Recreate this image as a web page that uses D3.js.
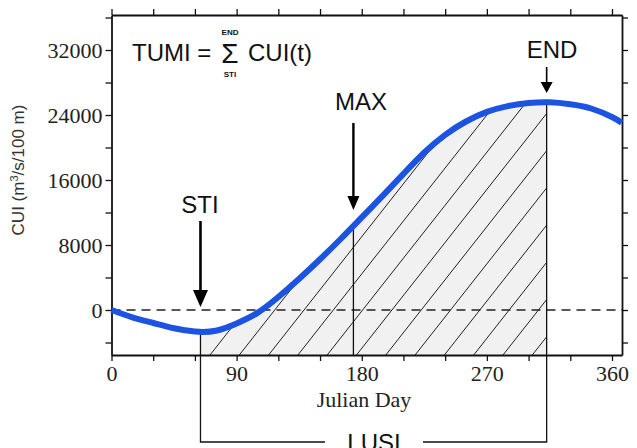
<!DOCTYPE html>
<html>
<head>
<meta charset="utf-8">
<script src="https://cdn.jsdelivr.net/npm/d3@7"></script>
<style>
  body { margin: 0; background: #fff; }
  .serif { font-family: "Liberation Serif", "Times New Roman", serif; }
  .sans { font-family: "Liberation Sans", Arial, sans-serif; }
</style>
</head>
<body>
<div id="chart"></div>
<script>
// Cumulative upwelling index
var days = [0, 15, 30, 45, 60, 75, 90, 105, 120, 135, 150, 165, 180, 195, 210, 225, 240, 255, 270, 285, 300, 315, 330, 345, 360, 367];
var cui  = [0, -900, -1600, -2250, -2650, -2550, -1650, -350, 1600, 3850, 6250, 8770, 11400, 14050, 16750, 19380, 21560, 23200, 24380, 25100, 25480, 25560, 25330, 24800, 23750, 23050];

var eventNames  = ["STI", "MAX", "END"];
var eventDays   = [64, 174, 313];
var eventValues = [-2700, 10250, 25560];

var xTicks = [0, 30, 60, 90, 120, 150, 180, 210, 240, 270, 300, 330, 360];
var xLabels = [0, 90, 180, 270, 360];
var yTicks = [-4000, 0, 4000, 8000, 12000, 16000, 20000, 24000, 28000, 32000, 36000];
var yLabels = [0, 8000, 16000, 24000, 32000];

var W = 637, H = 448;
var pLeft = 111.5, pRight = 622, pTop = 15, pBottom = 355;

var svg = d3.select("#chart").append("svg").attr("width", W).attr("height", H);

var x = d3.scaleLinear().domain([0, 367.2]).range([pLeft, pRight]);
var y = d3.scaleLinear().domain([-5538, 36308]).range([pBottom, pTop]);

var data = days.map(function (d, i) { return { day: d, v: cui[i] }; });

// Hatched region between STI and END, under the curve
var area = d3.area()
  .x(function (d) { return x(d.day); })
  .y0(pBottom)
  .y1(function (d) { return y(d.v); })
  .curve(d3.curveNatural);

var defs = svg.append("defs");
defs.append("clipPath").attr("id", "underClip")
  .append("path").attr("d", area(data));
defs.append("clipPath").attr("id", "spanClip")
  .append("rect")
  .attr("x", x(eventDays[0])).attr("y", pTop)
  .attr("width", x(eventDays[2]) - x(eventDays[0])).attr("height", pBottom - pTop);

var span = svg.append("g").attr("clip-path", "url(#spanClip)");
span.append("path").attr("d", area(data)).style("fill", "#f1f1f1");

var hatch = span.append("g").attr("clip-path", "url(#underClip)");
var slope = 1.27, step = 29.3, x0 = 210;
for (var k = -1; k < 16; k++) {
  var bx = x0 + k * step;
  hatch.append("line")
    .attr("x1", bx).attr("y1", pBottom)
    .attr("x2", bx + 300 / slope).attr("y2", pBottom - 300)
    .style("stroke", "#222").style("stroke-width", 1);
}

// zero line
svg.append("line")
  .attr("x1", pLeft).attr("x2", pRight).attr("y1", y(0)).attr("y2", y(0))
  .style("stroke", "#222").style("stroke-width", 1.6).style("stroke-dasharray", "9,6");

// vertical markers and LUSI bracket
var bY = 442;
svg.append("line").attr("x1", x(eventDays[1])).attr("x2", x(eventDays[1]))
  .attr("y1", y(eventValues[1])).attr("y2", pBottom)
  .style("stroke", "#111").style("stroke-width", 1.3);
svg.append("path")
  .attr("d", "M" + x(eventDays[0]) + "," + y(eventValues[0]) + "V" + bY + "H325")
  .style("fill", "none").style("stroke", "#111").style("stroke-width", 1.3);
svg.append("path")
  .attr("d", "M423," + bY + "H" + x(eventDays[2]) + "V" + y(eventValues[2]))
  .style("fill", "none").style("stroke", "#111").style("stroke-width", 1.3);

// axes / frame
function styleAxis(g) {
  g.selectAll("path").style("stroke", "#111").style("stroke-width", 1.8);
  g.selectAll("line").style("stroke", "#111").style("stroke-width", 1.3);
  g.selectAll("text").attr("class", "serif").style("font-size", "22px").style("fill", "#222");
}

svg.append("g").attr("transform", "translate(0," + pBottom + ")")
  .call(d3.axisBottom(x).tickValues(xTicks).tickSize(6).tickSizeOuter(0).tickPadding(4)
    .tickFormat(function (d) { return xLabels.indexOf(d) >= 0 ? d : ""; }))
  .call(styleAxis);

svg.append("g").attr("transform", "translate(0," + pTop + ")")
  .call(d3.axisTop(x).tickValues(xTicks).tickSize(6).tickSizeOuter(0).tickFormat(""))
  .call(styleAxis);

svg.append("g").attr("transform", "translate(" + pLeft + ",0)")
  .call(d3.axisLeft(y).tickValues(yTicks).tickSize(6).tickSizeOuter(0).tickPadding(3)
    .tickFormat(function (d) { return yLabels.indexOf(d) >= 0 ? d : ""; }))
  .call(styleAxis);

svg.append("g").attr("transform", "translate(" + pRight + ",0)")
  .call(d3.axisRight(y).tickValues(yTicks).tickSize(6).tickSizeOuter(0).tickFormat(""))
  .call(styleAxis);

// CUI curve
var line = d3.line()
  .x(function (d) { return x(d.day); })
  .y(function (d) { return y(d.v); })
  .curve(d3.curveNatural);

svg.append("path").datum(data).attr("d", line)
  .style("fill", "none").style("stroke", "#1c53e0").style("stroke-width", 6);

// arrows
function arrow(cx, y1, y2, headLen, headW, sw) {
  svg.append("line").attr("x1", cx).attr("x2", cx).attr("y1", y1).attr("y2", y2 - headLen + 1)
    .style("stroke", "#000").style("stroke-width", sw);
  svg.append("path")
    .attr("d", "M" + (cx - headW / 2) + "," + (y2 - headLen) + "L" + (cx + headW / 2) + "," + (y2 - headLen) + "L" + cx + "," + y2 + "Z")
    .style("fill", "#000");
}
arrow(x(eventDays[0]), 221, 307, 17, 15, 2.6);
arrow(x(eventDays[1]), 123, 210, 14, 12, 2.4);
arrow(x(eventDays[2]), 67, 93, 11, 12, 1.6);

var labelPos = [[200, 213], [361, 110], [552, 58]];
eventNames.forEach(function (n, i) {
  svg.append("text").attr("class", "sans")
    .attr("x", labelPos[i][0]).attr("y", labelPos[i][1])
    .attr("text-anchor", "middle").style("font-size", "24px").style("fill", "#111")
    .text(n);
});

svg.append("text").attr("class", "sans").attr("x", 374).attr("y", 451)
  .attr("text-anchor", "middle").style("font-size", "24px").style("fill", "#111").text("LUSI");

// formula
svg.append("text").attr("class", "sans").attr("x", 132).attr("y", 61)
  .style("font-size", "24px").style("fill", "#111").text("TUMI =");
svg.append("text").attr("class", "sans").attr("x", 230).attr("y", 63)
  .attr("text-anchor", "middle").style("font-size", "28px").style("fill", "#111").text("\u03a3");
svg.append("text").attr("class", "sans").attr("x", 230).attr("y", 35)
  .attr("text-anchor", "middle").style("font-size", "8px").style("font-weight", "bold").style("fill", "#111").text("END");
svg.append("text").attr("class", "sans").attr("x", 230).attr("y", 77)
  .attr("text-anchor", "middle").style("font-size", "8px").style("font-weight", "bold").style("fill", "#111").text("STI");
svg.append("text").attr("class", "sans").attr("x", 248).attr("y", 61)
  .style("font-size", "24px").style("fill", "#111").text("CUI(t)");

// axis titles
svg.append("text").attr("class", "serif").attr("x", 364).attr("y", 407)
  .attr("text-anchor", "middle").style("font-size", "22px").style("fill", "#222").text("Julian Day");

var yt = svg.append("text").attr("class", "sans")
  .attr("transform", "translate(24,170) rotate(-90)")
  .attr("text-anchor", "middle").style("font-size", "17px").style("fill", "#333");
yt.append("tspan").text("CUI (m");
yt.append("tspan").attr("dy", -6).style("font-size", "11px").text("3");
yt.append("tspan").attr("dy", 6).text("/s/100 m)");
</script>
</body>
</html>
